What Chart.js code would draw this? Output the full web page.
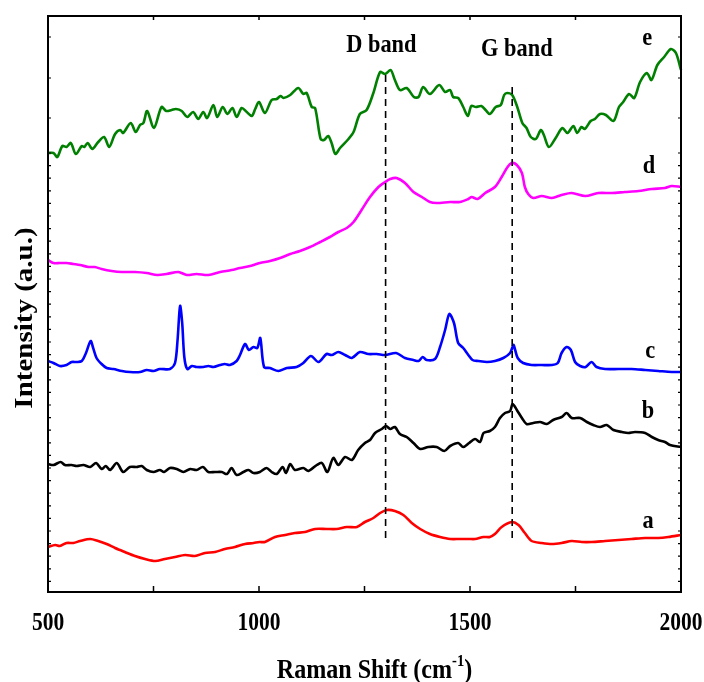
<!DOCTYPE html>
<html>
<head>
<meta charset="utf-8">
<script src="https://cdn.jsdelivr.net/npm/chart.js@4"></script>
<style>
  html, body { margin: 0; padding: 0; background: #fff; }
  canvas { display: block; }
</style>
</head>
<body>
<canvas id="ramanChart" width="704" height="682"></canvas>
<script>
// Raman shift (cm-1) and intensity (a.u., stacked offsets)
const shiftA = [500,517,528,544,560,576,600,619,639,659,682,706,730,754,777,801,825,848,872,896,919,943,967,987,1001,1014,1038,1062,1085,1109,1133,1160,1184,1208,1232,1251,1271,1287,1303,1322,1342,1362,1382,1405,1429,1453,1476,1498,1512,1532,1547,1559,1575,1599,1615,1630,1646,1670,1694,1717,1741,1765,1788,1820,1852,1883,1915,1946,1970,2000];
const intensityA = [45,47,46,49,49,51,53,51,48,44,40,36,33,31,33,35,37,36,39,40,43,45,48,49,50,50,55,57,59,60,63,63,63,65,65,70,74,79,82,81,77,69,63,58,55,53,53,53,53,55,55,58,65,70,67,59,51,49,48,49,51,50,50,51,52,53,54,54,55,57];

const shiftB = [500,513,530,540,556,568,584,600,614,627,637,647,663,678,694,710,722,734,750,765,775,789,805,821,837,852,867,880,896,912,924,935,947,963,975,987,1002,1018,1030,1042,1056,1064,1074,1085,1105,1117,1137,1149,1162,1176,1188,1204,1220,1235,1251,1263,1275,1291,1301,1311,1322,1334,1350,1366,1382,1401,1421,1439,1453,1472,1484,1498,1512,1524,1532,1547,1559,1571,1583,1595,1601,1611,1623,1634,1650,1666,1682,1697,1717,1729,1741,1761,1777,1792,1808,1824,1840,1860,1875,1891,1915,1931,1946,1962,1974,2000];
const intensityB = [128,127,130,127,127,126,127,125,129,123,126,122,129,120,125,125,126,122,120,122,120,124,123,120,123,122,125,120,120,120,118,124,117,120,122,119,120,124,120,118,125,119,128,122,124,121,127,129,120,134,127,135,132,142,149,152,159,163,166,163,165,158,155,149,143,145,145,141,146,149,145,149,153,150,159,161,165,174,179,181,188,182,174,168,169,170,168,172,175,179,174,174,170,167,165,167,162,160,159,160,159,155,152,150,147,145];

const shiftC = [500,513,528,544,556,568,580,590,601,607,615,627,639,655,675,694,718,734,750,765,789,801,807,813,818,823,830,841,852,868,880,892,908,919,931,947,955,967,976,987,996,1003,1012,1026,1046,1066,1089,1105,1123,1141,1160,1172,1188,1204,1220,1239,1259,1279,1299,1325,1346,1366,1378,1388,1397,1417,1429,1441,1451,1462,1472,1484,1496,1506,1520,1540,1559,1579,1595,1603,1607,1613,1626,1646,1670,1694,1708,1717,1729,1739,1749,1761,1774,1788,1800,1820,1852,1883,1915,1946,1978,2000];
const intensityC = [231,229,226,227,230,230,231,239,251,244,234,228,224,223,221,220,220,222,221,223,223,229,252,286,269,235,223,226,225,225,226,225,227,228,227,231,237,248,242,245,244,254,225,224,221,224,225,229,236,230,238,237,240,237,234,240,238,238,237,239,234,232,231,235,232,233,245,262,278,269,249,244,237,232,231,230,231,234,239,247,242,234,229,227,227,227,229,239,245,242,230,226,225,230,225,223,223,223,222,221,220,220];

const shiftD = [500,513,528,544,560,576,596,611,627,651,675,706,734,759,781,809,829,852,880,908,935,955,979,1002,1026,1050,1074,1097,1121,1145,1168,1188,1208,1224,1243,1263,1283,1299,1311,1326,1346,1366,1386,1405,1421,1453,1476,1496,1504,1518,1536,1559,1575,1589,1599,1611,1623,1630,1638,1650,1670,1694,1717,1741,1773,1804,1836,1867,1899,1931,1962,1978,2000];
const intensityD = [332,329,329,329,328,327,325,325,323,321,320,320,319,317,318,320,317,318,317,320,322,324,326,329,331,334,338,341,345,350,355,360,364,370,382,395,405,410,413,414,409,400,395,390,389,390,390,393,395,393,399,405,415,425,429,427,419,405,398,394,396,394,397,399,396,399,399,400,401,403,404,406,405];

const shiftE = [500,513,522,534,544,554,566,580,586,594,605,619,633,645,659,671,678,696,708,718,726,735,751,769,780,793,803,817,830,844,856,868,877,892,901,914,925,937,947,959,971,983,991,1000,1014,1030,1042,1051,1058,1074,1093,1105,1113,1125,1133,1146,1154,1164,1172,1181,1192,1212,1224,1239,1255,1271,1287,1299,1312,1322,1334,1350,1367,1378,1389,1405,1427,1441,1453,1460,1472,1484,1495,1503,1514,1527,1537,1547,1561,1573,1581,1588,1600,1612,1624,1634,1644,1656,1668,1675,1687,1703,1719,1731,1745,1754,1764,1772,1786,1796,1808,1822,1840,1853,1863,1877,1889,1903,1919,1930,1944,1960,1976,1988,2000];
const intensityE = [439,439,435,446,445,449,438,446,445,449,443,450,455,445,458,462,459,469,460,467,469,481,464,485,481,482,483,481,475,480,473,480,474,487,475,485,478,484,475,484,480,476,483,490,479,492,493,496,494,497,504,498,499,485,484,453,452,456,449,438,444,453,460,478,482,499,520,518,522,512,502,504,495,495,505,498,507,500,502,495,494,485,476,486,485,486,482,478,485,487,497,499,497,485,469,464,455,453,462,457,445,454,464,459,466,459,465,463,471,473,478,477,471,485,490,498,494,510,519,512,527,535,543,539,522];

// band markers (dashed guides)
const bandNames = ['D band', 'G band'];
const bandShift = [1300, 1600];
const bandLineTop = [520, 505];
const bandLineBottom = 54;
const bandLabelPos = [[1290, 540], [1611, 536]];

// curve labels
const curveLetters = ['a', 'b', 'c', 'd', 'e'];
const curveLetterPos = [[1922, 64], [1922, 174], [1927, 234], [1924, 419], [1920, 547]];

// axes
const xMin = 500, xMax = 2000;
const xTickLabels = [500, 1000, 1500, 2000];
const xMinorTicks = [750, 1250, 1750];
const yMin = 0, yMax = 576;
const yTicksTop = [555, 514, 474];
const yTickStep = 12.6;

const seriesColors = ['#ff0000', '#000000', '#0000ff', '#ff00ff', '#008000'];
const seriesShift = [shiftA, shiftB, shiftC, shiftD, shiftE];
const seriesIntensity = [intensityA, intensityB, intensityC, intensityD, intensityE];

const yTickValues = yTicksTop.slice();
for (let v = 439; v > yMin; v -= yTickStep) yTickValues.push(v);

const FONT = '"Liberation Serif", "Times New Roman", serif';

function drawText(ctx, s, x, y, size, align, baseline) {
    ctx.save();
    ctx.translate(x, y);
    ctx.scale(0.86, 1);
    ctx.font = 'bold ' + size + 'px ' + FONT;
    ctx.textAlign = align || 'center';
    ctx.textBaseline = baseline || 'alphabetic';
    ctx.fillStyle = '#000';
    ctx.fillText(s, 0, 0);
    ctx.restore();
}

const framePlugin = {
    id: 'framePlugin',
    afterDraw(chart) {
        const ctx = chart.ctx;
        const xs = chart.scales.x, ys = chart.scales.y;
        const area = chart.chartArea;

        ctx.save();
        ctx.strokeStyle = '#000';
        ctx.lineWidth = 2;
        ctx.strokeRect(area.left, area.top, area.right - area.left, area.bottom - area.top);

        // x ticks, inward on bottom and top
        ctx.lineWidth = 1.5;
        xTickLabels.concat(xMinorTicks).forEach(v => {
            const px = xs.getPixelForValue(v);
            ctx.beginPath();
            ctx.moveTo(px, area.bottom); ctx.lineTo(px, area.bottom - 6);
            ctx.moveTo(px, area.top); ctx.lineTo(px, area.top + 4);
            ctx.stroke();
        });
        // y ticks, inward on left and right
        ctx.lineWidth = 1.2;
        yTickValues.forEach(v => {
            const py = ys.getPixelForValue(v);
            ctx.beginPath();
            ctx.moveTo(area.left, py); ctx.lineTo(area.left + 3, py);
            ctx.moveTo(area.right, py); ctx.lineTo(area.right - 3, py);
            ctx.stroke();
        });
        ctx.restore();

        // tick labels
        xTickLabels.forEach(v => {
            drawText(ctx, String(v), xs.getPixelForValue(v), 624, 25, 'center', 'middle');
        });

        // x axis title with superscript
        ctx.save();
        ctx.font = 'bold 28px ' + FONT;
        const main = 'Raman Shift (cm';
        const wMain = ctx.measureText(main).width * 0.86;
        ctx.font = 'bold 17px ' + FONT;
        const wSup = ctx.measureText('-1').width * 0.86;
        ctx.font = 'bold 28px ' + FONT;
        const wEnd = ctx.measureText(')').width * 0.86;
        ctx.restore();
        const total = wMain + wSup + wEnd;
        let x0 = (area.left + area.right) / 2 + 10 - total / 2;
        drawText(ctx, main, x0, 678, 28, 'left');
        drawText(ctx, '-1', x0 + wMain, 666, 17, 'left');
        drawText(ctx, ')', x0 + wMain + wSup, 678, 28, 'left');

        // y axis title (rotated)
        ctx.save();
        ctx.translate(26, 318);
        ctx.rotate(-Math.PI / 2);
        ctx.scale(1, 0.86);
        ctx.font = 'bold 29px ' + FONT;
        ctx.textAlign = 'center';
        ctx.textBaseline = 'middle';
        ctx.fillStyle = '#000';
        ctx.fillText('Intensity (a.u.)', 0, 0);
        ctx.restore();

        // band labels and curve letters
        bandNames.forEach((s, i) => {
            drawText(ctx, s, xs.getPixelForValue(bandLabelPos[i][0]), ys.getPixelForValue(bandLabelPos[i][1]), 26, 'center');
        });
        curveLetters.forEach((s, i) => {
            drawText(ctx, s, xs.getPixelForValue(curveLetterPos[i][0]), ys.getPixelForValue(curveLetterPos[i][1]), 26, 'center');
        });
    }
};

const datasets = [];
bandShift.forEach((v, i) => {
    datasets.push({
        label: bandNames[i],
        data: [{ x: v, y: bandLineBottom }, { x: v, y: bandLineTop[i] }],
        borderColor: '#000',
        borderWidth: 1.6,
        borderDash: [7, 5],
        pointRadius: 0,
        tension: 0
    });
});
seriesShift.forEach((xsArr, i) => {
    datasets.push({
        label: curveLetters[i],
        data: xsArr.map((x, j) => ({ x: x, y: seriesIntensity[i][j] })),
        borderColor: seriesColors[i],
        borderWidth: 2.6,
        pointRadius: 0,
        tension: 0.3,
        clip: 4
    });
});

new Chart(document.getElementById('ramanChart').getContext('2d'), {
    type: 'line',
    data: { datasets: datasets },
    options: {
        responsive: false,
        animation: false,
        events: [],
        layout: { padding: { left: 48, right: 23, top: 16, bottom: 90 } },
        plugins: { legend: { display: false }, tooltip: { enabled: false } },
        scales: {
            x: { type: 'linear', min: xMin, max: xMax, display: false },
            y: { type: 'linear', min: yMin, max: yMax, display: false }
        }
    },
    plugins: [framePlugin]
});
</script>
</body>
</html>
